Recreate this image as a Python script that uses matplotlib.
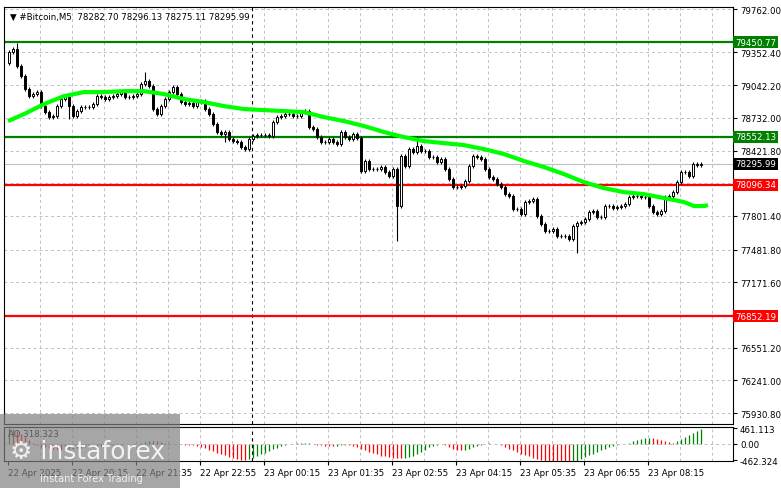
import numpy as np
import matplotlib.pyplot as plt
from matplotlib.patches import Rectangle

# close prices of the M5 candles
closes = [79355, 79384, 79223, 79128, 79004, 78938, 78957, 78976, 78843, 78786,
          78739, 78748, 78843, 78910, 78938, 78843, 78748, 78796, 78834, 78834,
          78834, 78862, 78938, 78929, 78910, 78929, 78938, 78957, 78976, 78929,
          78929, 78938, 78957, 79052, 79080, 79033, 78815, 78767, 78843, 78910,
          78976, 79023, 78957, 78881, 78862, 78872, 78843, 78881, 78891, 78815,
          78767, 78673, 78597, 78578, 78597, 78530, 78511, 78502, 78454, 78435,
          78530, 78559, 78568, 78568, 78568, 78559, 78692, 78739, 78748, 78767,
          78767, 78748, 78748, 78786, 78796, 78644, 78625, 78549, 78502, 78502,
          78530, 78502, 78483, 78597, 78549, 78530, 78578, 78540, 78227, 78322,
          78246, 78246, 78246, 78265, 78217, 78180,
          78246, 77895, 78369, 78274, 78435, 78407, 78464, 78416, 78416, 78360,
          78360, 78312, 78341, 78246, 78151, 78075, 78075, 78084, 78132, 78274,
          78369, 78360, 78341, 78246, 78170, 78151, 78103, 78075, 78008, 77990,
          77866, 77866, 77819, 77933, 77942, 77961, 77800, 77725, 77658, 77658,
          77677, 77611, 77611, 77611, 77582, 77705, 77734, 77743, 77772, 77838,
          77847, 77791, 77791, 77895, 77895, 77876, 77885, 77895, 77914, 77980,
          77990, 77990, 77980, 77980, 77895, 77838, 77819, 77847, 77980, 77990,
          78027, 78122, 78217, 78217, 78180, 78293, 78284, 78296]
first_open = 79250
# notable wick extremes {candle index: price}
long_lows = {97: 77563, 142: 77450, 15: 78720, 54: 78500}
long_highs = {2: 79440, 34: 79166, 102: 78560}

# moving average (index, price)
ma_idx = [-0.25, 3.75, 8.75, 13.75, 18.75, 23.75, 28.75, 33.75, 38.75, 43.75, 48.75,
          53.75, 58.75, 63.75, 68.75, 73.75, 78.75, 83.75, 88.75, 93.75, 98.75, 103.75,
          108.75, 113.75, 118.75, 123.75, 128.75, 133.75, 138.75, 143.75, 148.75,
          153.75, 158.75, 163.75, 168.75, 171.25, 173.75, 174.75]
ma_val = [78701, 78767, 78862, 78938, 78976, 78976, 78985, 78985, 78957, 78910, 78881,
          78843, 78815, 78805, 78796, 78786, 78739, 78701, 78654, 78597, 78549, 78511,
          78492, 78473, 78435, 78388, 78322, 78265, 78198, 78122, 78065, 78027,
          78008, 77971, 77933, 77895, 77895, 77904]

ao = [460, 430, 380, 300, 200, 120, 40, -30, -80,
      -100, -120, -140, -150, -160, -150, -140, -130, -120, -110, -100, -90, -80, -70,
      -60, -50, -40, -40, -30, -20, -10, -10, 0, 10, 30,
      60, 90, 100, 80, 50, 30, 20, 10, 0, -10, -20, -20, -30,
      -50, -80, -120, -160, -200, -250, -290, -330, -370, -400, -430, -450, -460,
      -440, -400, -350, -300, -250, -200, -150, -110, -70, -40, -10,
      10, 20, 30, 40, 30, 10, -20, -40, -50, -60, -60, -50, -40, -30,
      -40, -70, -100, -140, -180, -220, -260, -300, -340, -360, -380, -390, -400, -410,
      -400, -380, -340, -280, -220, -160, -100, -50, -20, 0,
      -30, -80, -130, -160, -180, -170, -140, -100, -60, -20, 10, 20, 10, -10,
      -40, -80, -130, -180, -230, -280, -320, -360, -400, -430, -460, -480, -500, -510,
      -520, -530, -540, -550, -520, -480, -430, -380, -330, -280, -230, -180, -140,
      -100, -60, -30, -10, 10, 40, 80, 120, 150, 170, 180, 170, 150, 120, 80, 50, 40,
      80, 140, 200, 260, 320, 380, 430, 460]

price_ticks = [79762.00, 79352.40, 79042.20, 78732.00, 78421.80, 78111.60, 77801.40,
               77481.80, 77171.60, 76861.40, 76551.20, 76241.00, 75930.80]
hidden_ticks = [78111.60, 76861.40]
levels_green = [79450.77, 78552.13]
levels_red = [78096.34, 76852.19]
last_price = 78295.99
time_labels = ["22 Apr 2025", "22 Apr 20:15", "22 Apr 21:35", "22 Apr 22:55", "23 Apr 00:15",
               "23 Apr 01:35", "23 Apr 02:55", "23 Apr 04:15", "23 Apr 05:35",
               "23 Apr 06:55", "23 Apr 08:15"]

FS = 6.2
plt.rcParams['font.family'] = ['DejaVu Sans']
fig = plt.figure(figsize=(7.81, 4.89), dpi=100)
ax = fig.add_axes([4/781, 1-425/489, 729/781, 417/489])
ax2 = fig.add_axes([4/781, 1-462/489, 729/781, 34/489])

n = len(closes)
opens = [first_open] + closes[:-1]
x = np.arange(n)
for i in x:
    o, c = opens[i], closes[i]
    hi = long_highs.get(i, max(o, c) + 18)
    lo = long_lows.get(i, min(o, c) - 18)
    ax.vlines(i, lo, hi, color='black', lw=0.8, zorder=3)
    bot, h = min(o, c), max(abs(c - o), 4)
    ax.add_patch(Rectangle((i - 0.35, bot), 0.7, h, facecolor='white' if c >= o else 'black',
                           edgecolor='black', lw=0.7, zorder=4))

ax.plot(ma_idx, ma_val, color='#00ff00', lw=3, zorder=5, solid_capstyle='butt')

xl = (-1.25, -1.25 + 729/4)
ylo, yhi = 75828, 79783
ax.set_xlim(*xl)
ax.set_ylim(ylo, yhi)

# grid
tick_idx = [(px - 5) / 4 for px in range(4, 700, 64)]
for px in range(36, 733, 32):
    ax.axvline((px - 5) / 4, color='#c0c0c0', ls=(0, (3, 3)), lw=0.7, zorder=0)
ax.axvline((248 - 5) / 4, color='black', ls=(0, (3, 3)), lw=0.8, zorder=1)
for p in price_ticks:
    ax.axhline(p, color='#c0c0c0', ls=(0, (3, 3)), lw=0.7, zorder=0)

for lv in levels_green:
    ax.axhline(lv, color='#008000', lw=1.6, zorder=2)
for lv in levels_red:
    ax.axhline(lv, color='#ff0000', lw=1.6, zorder=2)
ax.axhline(last_price, color='#c0c0c0', lw=0.8, zorder=1)

ax.set_xticks([])
ax.yaxis.tick_right()
ax.set_yticks([p for p in price_ticks if p not in hidden_ticks])
ax.set_yticklabels(["%.2f" % p for p in price_ticks if p not in hidden_ticks], fontsize=FS)
ax.tick_params(axis='y', length=3, pad=2)


def level_tag(y, text, bg, fg='white'):
    ax.text(1.003, y, text, transform=ax.get_yaxis_transform(), fontsize=FS, color=fg,
            va='center', ha='left', zorder=10,
            bbox=dict(boxstyle='square,pad=0.2', facecolor=bg, edgecolor='none'))


for lv in levels_green:
    level_tag(lv, "%.2f" % lv, '#008000')
for lv in levels_red:
    level_tag(lv, "%.2f" % lv, '#ff0000')
level_tag(last_price, "%.2f" % last_price, 'black')

ax.text(0.008, 0.988, "\u25bc #Bitcoin,M5  78282.70 78296.13 78275.11 78295.99",
        transform=ax.transAxes, fontsize=FS, va='top', ha='left')

# AO
aov = ao[:n]
cols = ['#008000'] + ['#008000' if aov[i] > aov[i-1] else '#ff0000' for i in range(1, len(aov))]
ax2.vlines(np.arange(len(aov)), 0, aov, colors=cols, lw=0.9)
ax2.axhline(0, color='#c0c0c0', ls=(0, (3, 3)), lw=0.7)
for px in range(36, 733, 32):
    ax2.axvline((px - 5) / 4, color='#c0c0c0', ls=(0, (3, 3)), lw=0.7, zorder=0)
ax2.axvline((248 - 5) / 4, color='black', ls=(0, (3, 3)), lw=0.8)
ax2.set_xlim(*xl)
ax2.set_ylim(-490, 490)
ax2.yaxis.tick_right()
ax2.set_yticks([461.113, 0, -462.324])
ax2.set_yticklabels(["461.113", "0.00", "-462.324"], fontsize=FS)
ax2.tick_params(axis='y', length=3, pad=2)
ax2.set_xticks(tick_idx)
ax2.set_xticklabels(time_labels[:len(tick_idx)], fontsize=FS, ha='left')
ax2.tick_params(axis='x', length=3, pad=2)
ax2.text(0.005, 0.95, "AO 318.323", transform=ax2.transAxes, fontsize=FS, va='top')

for a in (ax, ax2):
    for s in a.spines.values():
        s.set_linewidth(0.8)

# watermark
fig.patches.append(Rectangle((0, 0), 180/781, 74/489, transform=fig.transFigure,
                             facecolor='#808080', alpha=0.7, edgecolor='none', zorder=20))
fig.text(10/781, 30/489, "\u2699 instaforex", fontsize=18, color='white', alpha=0.85, zorder=21)
fig.text(40/781, 7/489, "Instant Forex Trading", fontsize=7, color='white', alpha=0.85, zorder=21)

fig.savefig("out.png", dpi=100)
